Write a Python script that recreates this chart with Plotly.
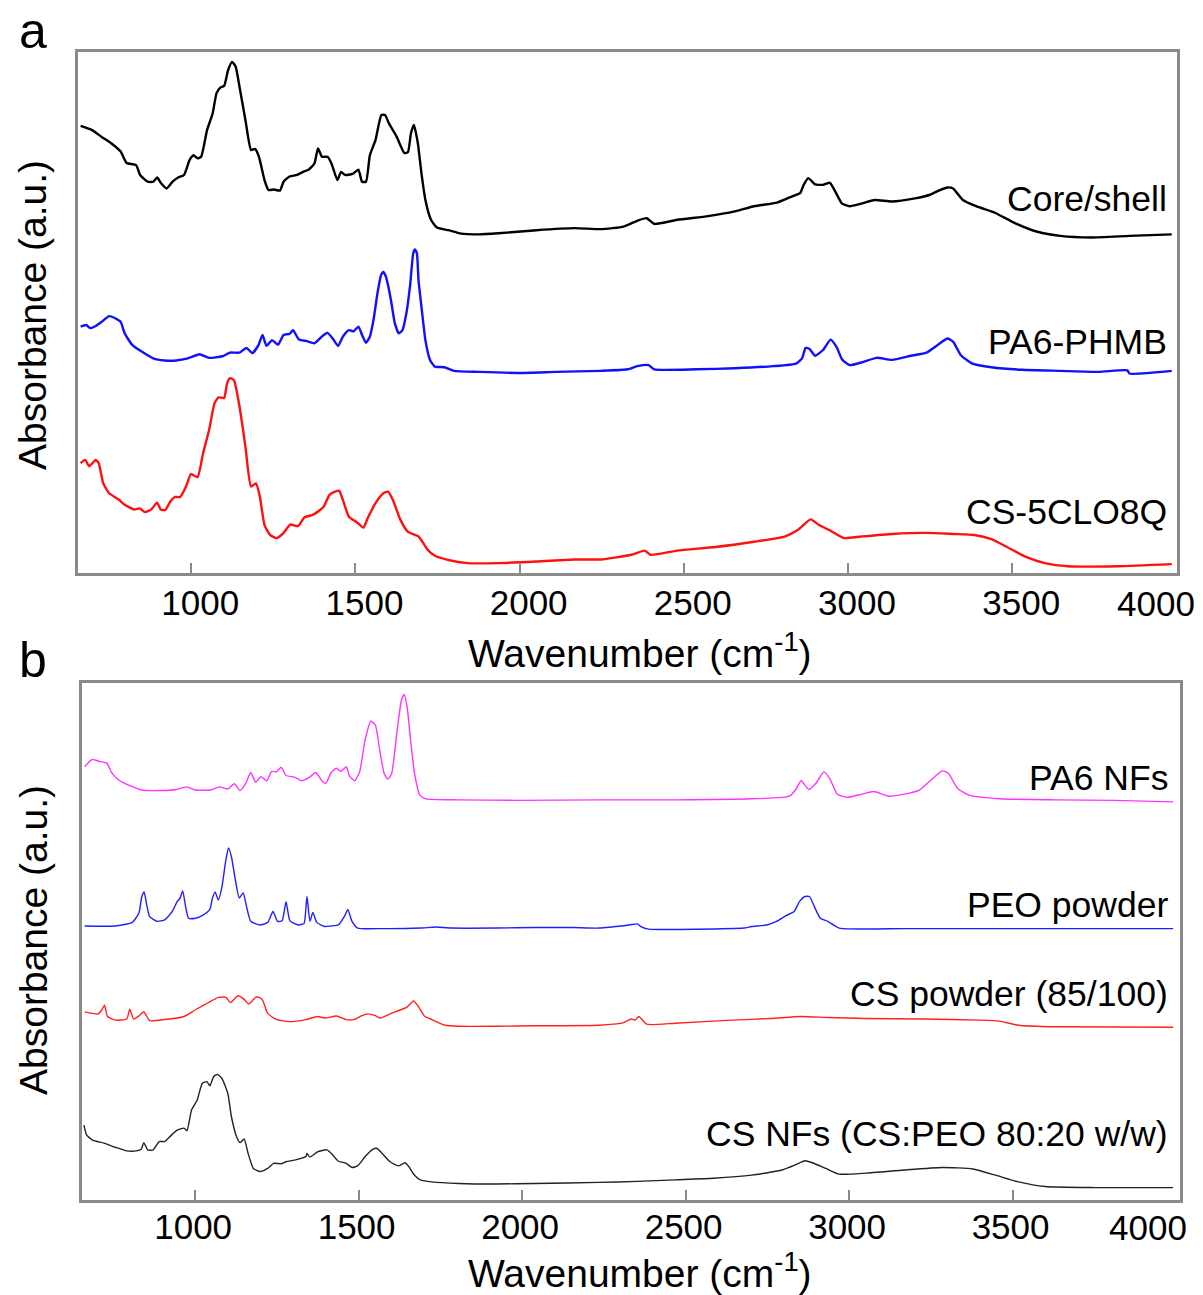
import plotly.graph_objects as go

# ---------------- FTIR spectra (wavenumber cm-1, absorbance a.u., stacked) ----------------
# Panel a
core_shell = [(663, 85.8), (698, 85.0), (727, 83.7), (756, 82.5), (785, 80.9), (803, 78.7), (832, 78.3),
              (844, 76.4), (867, 75.1), (884, 75.1), (896, 75.9), (908, 74.8), (925, 73.8), (943, 75.1),
              (960, 75.9), (978, 76.4), (995, 79.3), (1007, 80.2), (1019, 79.6), (1030, 79.9), (1048, 85.0),
              (1065, 88.2), (1077, 92.1), (1089, 93.2), (1100, 93.5), (1112, 96.5), (1124, 98.1), (1135, 97.2),
              (1147, 93.3), (1165, 86.9), (1182, 81.2), (1194, 81.4), (1206, 79.9), (1223, 75.4), (1235, 73.5),
              (1252, 73.6), (1270, 73.4), (1281, 75.1), (1299, 76.1), (1322, 76.4), (1340, 77.0), (1357, 77.4),
              (1375, 78.6), (1386, 81.5), (1398, 79.9), (1415, 79.9), (1427, 78.6), (1445, 75.4), (1456, 77.0),
              (1468, 76.4), (1491, 76.6), (1509, 77.4), (1520, 75.1), (1532, 75.1), (1544, 80.2), (1561, 83.1),
              (1579, 87.9), (1590, 87.9), (1602, 86.3), (1625, 83.8), (1649, 80.6), (1660, 80.8), (1669, 84.4),
              (1678, 86.0), (1690, 82.5), (1701, 76.7), (1713, 71.6), (1730, 67.8), (1748, 66.3), (1783, 65.8),
              (1818, 65.2), (1876, 65.0), (1935, 65.2), (2051, 65.8), (2168, 66.2), (2247, 66.0), (2317, 66.5),
              (2358, 67.6), (2387, 68.1), (2410, 67.0), (2480, 67.8), (2574, 68.5), (2655, 69.4), (2714, 70.4),
              (2784, 71.1), (2830, 72.3), (2854, 72.9), (2865, 74.5), (2879, 75.8), (2900, 74.6), (2924, 74.5),
              (2945, 74.9), (2959, 73.5), (2982, 70.9), (3005, 70.4), (3040, 70.9), (3081, 71.6), (3134, 71.3),
              (3204, 71.9), (3250, 72.6), (3280, 73.5), (3303, 74.0), (3320, 73.8), (3350, 71.6), (3390, 70.4),
              (3449, 69.1), (3507, 67.2), (3577, 65.5), (3647, 64.7), (3740, 64.4), (3857, 64.7), (3986, 65.0)]

pa6_phmb = [(663, 47.3), (680, 47.6), (692, 47.0), (709, 47.4), (727, 48.2), (750, 49.3), (768, 48.9),
            (785, 48.2), (797, 46.0), (820, 43.8), (849, 42.5), (884, 41.2), (919, 40.8), (954, 40.8),
            (989, 41.2), (1025, 42.0), (1054, 41.3), (1095, 41.6), (1118, 42.3), (1147, 42.3), (1168, 43.2),
            (1186, 42.2), (1205, 43.8), (1217, 45.7), (1229, 43.6), (1246, 44.7), (1264, 43.8), (1281, 45.7),
            (1299, 45.9), (1310, 46.6), (1328, 44.8), (1352, 44.5), (1375, 44.1), (1398, 45.4), (1415, 46.1),
            (1433, 44.8), (1447, 43.6), (1462, 45.4), (1480, 46.6), (1494, 46.4), (1509, 47.3), (1520, 45.7),
            (1532, 44.2), (1544, 45.4), (1555, 48.6), (1567, 53.7), (1578, 57.2), (1585, 57.8), (1592, 57.0),
            (1600, 55.0), (1608, 52.4), (1620, 47.9), (1632, 46.0), (1643, 46.6), (1655, 49.8), (1666, 55.0),
            (1676, 61.4), (1681, 62.1), (1687, 61.4), (1692, 56.2), (1701, 51.1), (1713, 44.7), (1727, 40.9),
            (1742, 39.6), (1771, 39.5), (1800, 38.8), (1876, 38.6), (1993, 38.4), (2110, 38.6), (2247, 38.8),
            (2329, 39.1), (2358, 39.7), (2393, 39.9), (2410, 39.1), (2539, 39.1), (2655, 39.3), (2772, 39.7),
            (2842, 40.2), (2860, 41.2), (2871, 43.2), (2883, 43.0), (2900, 41.7), (2924, 42.8), (2947, 44.8),
            (2965, 43.4), (2982, 41.0), (3005, 39.9), (3040, 40.4), (3087, 41.3), (3134, 40.9), (3192, 41.7),
            (3239, 42.3), (3274, 43.8), (3303, 45.0), (3320, 44.4), (3344, 41.8), (3379, 40.2), (3437, 39.5),
            (3530, 39.0), (3647, 38.8), (3764, 38.6), (3851, 38.9), (3857, 38.3), (3986, 38.8)]

cs_5clo8q = [(663, 21.1), (677, 21.7), (689, 20.5), (709, 21.7), (718, 21.1), (732, 17.2), (750, 15.3),
             (779, 14.1), (797, 13.1), (826, 12.2), (843, 12.4), (858, 11.7), (878, 12.2), (896, 13.5),
             (907, 12.2), (921, 12.1), (936, 13.7), (951, 14.6), (966, 14.6), (984, 16.6), (999, 19.0),
             (1019, 18.4), (1036, 23.0), (1054, 27.4), (1071, 32.6), (1083, 33.7), (1100, 33.6), (1109, 36.4),
             (1118, 37.4), (1130, 37.0), (1147, 31.9), (1165, 24.2), (1182, 16.6), (1197, 17.2), (1209, 14.6),
             (1223, 9.2), (1240, 7.3), (1259, 6.7), (1280, 7.6), (1301, 9.3), (1325, 9.0), (1345, 10.7),
             (1368, 11.1), (1392, 12.1), (1403, 12.7), (1421, 15.0), (1438, 15.6), (1450, 15.8), (1462, 14.0),
             (1480, 10.8), (1503, 9.8), (1524, 8.7), (1537, 10.5), (1561, 13.4), (1585, 15.3), (1599, 15.6),
             (1614, 14.0), (1637, 10.2), (1660, 7.9), (1690, 7.1), (1701, 6.3), (1719, 4.5), (1742, 3.3),
             (1783, 2.5), (1841, 1.9), (1935, 1.9), (2051, 2.2), (2168, 2.6), (2247, 2.6), (2340, 3.5),
             (2381, 4.3), (2399, 3.5), (2480, 4.3), (2597, 5.0), (2714, 6.0), (2807, 7.0), (2848, 8.3),
             (2886, 10.3), (2912, 9.2), (2947, 8.1), (2988, 6.7), (3040, 7.0), (3134, 7.5), (3239, 7.7),
             (3320, 7.5), (3385, 7.3), (3437, 6.5), (3484, 5.0), (3542, 3.1), (3600, 1.9), (3670, 1.3),
             (3822, 1.3), (3986, 1.7)]

# Panel b
pa6_nfs = [(662, 83.8), (685, 85.2), (709, 84.8), (730, 84.5), (744, 82.7), (767, 81.2), (802, 80.1),
           (837, 79.3), (896, 79.2), (942, 79.4), (975, 79.9), (1001, 79.3), (1047, 79.3), (1073, 79.9),
           (1100, 79.5), (1120, 80.5), (1137, 79.2), (1155, 80.6), (1170, 82.7), (1185, 80.8), (1201, 81.9),
           (1219, 81.1), (1234, 82.9), (1248, 82.8), (1263, 83.7), (1278, 82.1), (1304, 81.8), (1327, 81.1),
           (1350, 81.8), (1369, 82.7), (1386, 81.2), (1400, 80.6), (1415, 82.6), (1432, 83.5), (1446, 82.9),
           (1462, 83.8), (1473, 81.9), (1488, 81.1), (1503, 82.8), (1520, 89.0), (1537, 92.6), (1551, 91.9),
           (1566, 86.4), (1578, 82.5), (1589, 81.4), (1601, 82.5), (1619, 91.5), (1631, 96.7), (1639, 97.8),
           (1648, 95.5), (1660, 88.3), (1671, 82.5), (1687, 78.3), (1706, 77.6), (1806, 77.4), (1981, 77.3),
           (2235, 77.4), (2468, 77.4), (2702, 77.6), (2818, 78.1), (2839, 79.6), (2853, 81.1), (2877, 79.4),
           (2900, 80.7), (2923, 82.8), (2941, 81.5), (2964, 78.5), (2993, 77.9), (3040, 78.5), (3075, 79.0),
           (3122, 78.1), (3168, 78.5), (3215, 79.3), (3250, 81.2), (3285, 83.0), (3303, 82.6), (3332, 79.6),
           (3367, 78.3), (3460, 77.6), (3635, 77.4), (3810, 77.3), (3991, 77.0)]

peo_powder = [(662, 53.0), (755, 53.0), (808, 53.7), (828, 55.5), (837, 58.7), (844, 59.6), (851, 57.4),
              (861, 54.8), (884, 53.9), (907, 54.2), (930, 55.8), (945, 57.7), (954, 58.4), (962, 59.8),
              (971, 56.7), (980, 54.5), (1001, 54.5), (1024, 55.1), (1045, 56.2), (1053, 58.4), (1061, 59.6),
              (1071, 58.0), (1082, 60.6), (1094, 65.8), (1102, 68.1), (1111, 66.4), (1123, 61.9), (1135, 58.4),
              (1147, 59.4), (1155, 57.4), (1170, 53.9), (1199, 53.2), (1222, 53.7), (1238, 55.8), (1252, 53.9),
              (1266, 54.0), (1278, 57.7), (1290, 54.0), (1316, 53.2), (1333, 53.5), (1342, 58.7), (1351, 53.9),
              (1360, 55.6), (1372, 53.7), (1397, 52.9), (1415, 53.0), (1438, 53.2), (1456, 54.8), (1467, 56.2),
              (1479, 54.0), (1497, 52.6), (1573, 52.5), (1689, 52.6), (1736, 52.8), (1782, 52.6), (1922, 52.6),
              (2039, 52.7), (2156, 52.7), (2235, 52.6), (2328, 53.2), (2352, 53.4), (2363, 52.9), (2387, 52.4),
              (2678, 52.6), (2702, 52.9), (2748, 53.2), (2778, 53.9), (2807, 55.0), (2832, 55.8), (2848, 57.7),
              (2865, 58.7), (2879, 58.7), (2894, 56.7), (2912, 54.5), (2935, 53.9), (2970, 52.6), (3168, 52.5),
              (3402, 52.5), (3635, 52.5), (3991, 52.5)]

cs_powder = [(662, 36.4), (703, 36.0), (715, 36.8), (723, 37.7), (732, 35.5), (756, 34.8), (791, 35.0),
             (800, 36.9), (812, 35.0), (828, 35.6), (843, 36.4), (861, 34.7), (907, 34.9), (966, 35.5),
             (1001, 36.8), (1041, 38.2), (1071, 39.2), (1094, 39.2), (1108, 38.2), (1131, 39.5), (1150, 38.8),
             (1164, 37.9), (1187, 39.3), (1205, 38.8), (1222, 36.1), (1246, 35.0), (1286, 34.5), (1339, 34.9),
             (1374, 35.5), (1397, 35.2), (1432, 35.6), (1461, 34.9), (1485, 34.9), (1508, 35.6), (1528, 36.0),
             (1549, 35.7), (1566, 35.2), (1596, 36.0), (1625, 36.7), (1648, 37.3), (1668, 38.5), (1683, 37.4),
             (1701, 35.6), (1724, 34.9), (1765, 33.8), (1806, 33.6), (1922, 33.6), (2039, 33.7), (2235, 33.8),
             (2305, 34.2), (2334, 35.0), (2346, 34.8), (2357, 35.5), (2381, 34.0), (2468, 34.2), (2643, 34.8),
             (2760, 35.1), (2853, 35.5), (2935, 35.3), (3052, 35.1), (3227, 35.0), (3402, 34.8), (3460, 34.6),
             (3518, 33.8), (3635, 33.5), (3991, 33.4)]

cs_nfs = [(660, 14.5), (668, 12.6), (686, 11.6), (721, 11.0), (756, 10.2), (791, 9.5), (820, 9.5), (835, 9.8),
          (843, 11.1), (855, 9.7), (872, 9.7), (890, 11.3), (907, 11.3), (928, 12.6), (945, 13.5), (966, 13.9),
          (975, 13.4), (989, 17.4), (1006, 19.3), (1022, 22.6), (1036, 22.9), (1045, 22.1), (1057, 23.9),
          (1068, 24.3), (1082, 23.5), (1100, 20.6), (1111, 16.1), (1127, 12.2), (1138, 11.1), (1150, 11.8),
          (1162, 9.0), (1178, 6.1), (1199, 5.5), (1222, 6.1), (1240, 7.1), (1263, 7.0), (1278, 7.4),
          (1304, 7.7), (1339, 8.4), (1342, 9.0), (1351, 8.3), (1374, 9.3), (1403, 9.7), (1421, 8.7),
          (1438, 7.5), (1462, 7.1), (1479, 6.3), (1497, 6.6), (1520, 8.4), (1543, 9.8), (1555, 10.0),
          (1572, 9.0), (1596, 7.4), (1621, 6.6), (1642, 7.2), (1654, 6.4), (1671, 4.8), (1689, 3.9),
          (1724, 3.5), (1806, 3.2), (1922, 3.1), (2039, 3.2), (2235, 3.4), (2352, 3.6), (2468, 3.9),
          (2585, 4.2), (2702, 4.8), (2795, 5.8), (2836, 6.8), (2865, 7.6), (2888, 7.2), (2929, 6.1),
          (2970, 5.0), (3052, 5.2), (3168, 5.8), (3285, 6.3), (3378, 6.0), (3448, 4.8), (3518, 3.5),
          (3600, 2.6), (3752, 2.4), (3991, 2.4)]

tick_values = [1000, 1500, 2000, 2500, 3000, 3500, 4000]
tick_labels = ["1000", "1500", "2000", "2500", "3000", "3500", "4000"]

# ---------------- layout helpers ----------------
W, H = 1203, 1295
FONT = "Liberation Sans, Arial, Helvetica, sans-serif"
FRAME = "#8a8a8a"


def fx(p):
    return p / W


def fy(p):
    return 1 - p / H


fig = go.Figure()

panel_a = [(core_shell, "#000000", "Core/shell", 71.8),
           (pa6_phmb, "#1010ff", "PA6-PHMB", 44.3),
           (cs_5clo8q, "#ff1010", "CS-5CLO8Q", 11.7)]
panel_b = [(pa6_nfs, "#ff33ff", "PA6 NFs", 81.6),
           (peo_powder, "#2020ff", "PEO powder", 57.1),
           (cs_powder, "#ff2020", "CS powder (85/100)", 39.8),
           (cs_nfs, "#222222", "CS NFs (CS:PEO 80:20 w/w)", 12.8)]

annotations = []
for series, color, name, ylab in panel_a:
    wn, ab = zip(*series)
    fig.add_trace(go.Scatter(x=wn, y=ab, mode="lines", xaxis="x", yaxis="y",
                             line=dict(color=color, width=2.4, shape="spline", smoothing=0.5),
                             showlegend=False, hoverinfo="skip"))
    annotations.append(dict(text=name, x=4002, xref="x", y=ylab, yref="y", xanchor="right",
                            yanchor="middle", xshift=-8, showarrow=False,
                            font=dict(family=FONT, size=35.5, color="black")))
for series, color, name, ylab in panel_b:
    wn, ab = zip(*series)
    fig.add_trace(go.Scatter(x=wn, y=ab, mode="lines", xaxis="x2", yaxis="y2",
                             line=dict(color=color, width=1.4, shape="spline", smoothing=0.5),
                             showlegend=False, hoverinfo="skip"))
    annotations.append(dict(text=name, x=4012, xref="x2", y=ylab, yref="y2", xanchor="right",
                            yanchor="middle", xshift=-10, showarrow=False,
                            font=dict(family=FONT, size=35.5, color="black")))

# axis titles and panel letters
for ytitle in (315, 940):
    annotations.append(dict(text="Absorbance (a.u.)", x=fx(33), y=fy(ytitle), xref="paper", yref="paper",
                            textangle=-90, showarrow=False, xanchor="center", yanchor="middle",
                            font=dict(family=FONT, size=39, color="black")))
for ytitle in (650, 1270):
    annotations.append(dict(text="Wavenumber (cm<sup>-1</sup>)", x=fx(640), y=fy(ytitle), xref="paper",
                            yref="paper", showarrow=False, xanchor="center", yanchor="middle",
                            font=dict(family=FONT, size=39, color="black")))
for letter, ybase in (("a", 31), ("b", 660)):
    annotations.append(dict(text=letter, x=fx(33), y=fy(ybase), xref="paper", yref="paper",
                            showarrow=False, xanchor="center", yanchor="middle",
                            font=dict(family=FONT, size=50, color="black")))

# the last tick label sits at the right frame edge, so it is pulled inward to stay on the page
for xref, ypx, shift in (("x", 603, -20), ("x2", 1227, -28)):
    annotations.append(dict(text=tick_labels[-1], x=tick_values[-1], xref=xref, y=fy(ypx), yref="paper",
                            xanchor="center", yanchor="middle", xshift=shift, showarrow=False,
                            font=dict(family=FONT, size=35, color="black")))

xcommon = dict(tickvals=tick_values[:-1], ticktext=tick_labels[:-1], ticks="inside", ticklen=10,
               tickwidth=2, tickcolor=FRAME, showline=True, mirror=True, linecolor=FRAME, linewidth=3,
               showgrid=False, zeroline=False, automargin=False,
               tickfont=dict(family=FONT, size=35, color="black"))
ycommon = dict(range=[0, 100], showticklabels=False, ticks="", showline=True, mirror=True,
               linecolor=FRAME, linewidth=3, showgrid=False, zeroline=False, automargin=False)

fig.update_layout(
    width=W, height=H,
    margin=dict(l=0, r=0, t=0, b=0, autoexpand=False),
    paper_bgcolor="white", plot_bgcolor="white",
    xaxis=dict(domain=[fx(78), fx(1177)], range=[655, 4002], anchor="y",
               ticklabelshift=9, ticklabelstandoff=-3, **xcommon),
    yaxis=dict(domain=[fy(573), fy(52)], anchor="x", **ycommon),
    xaxis2=dict(domain=[fx(82), fx(1180)], range=[654, 4012], anchor="y2",
                ticklabelshift=-2, ticklabelstandoff=-6, **xcommon),
    yaxis2=dict(domain=[fy(1200), fy(683)], anchor="x2", **ycommon),
    annotations=annotations,
)

fig.write_html("out.html")
